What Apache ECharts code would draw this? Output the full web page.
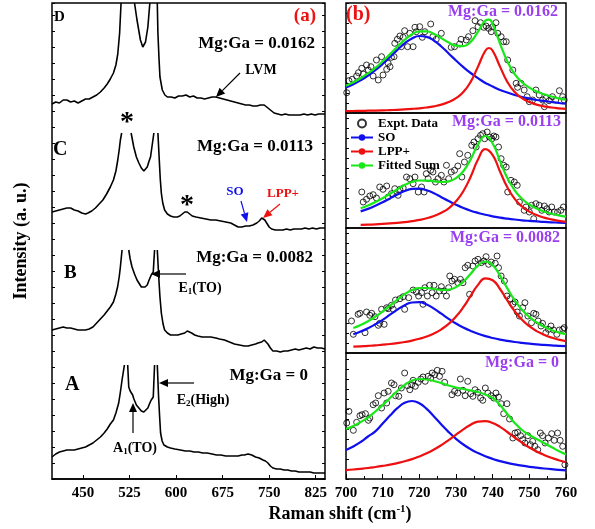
<!DOCTYPE html>
<html>
<head>
<meta charset="utf-8">
<script src="https://cdn.jsdelivr.net/npm/echarts@6/dist/echarts.min.js"></script>
<style>
  html, body { margin: 0; padding: 0; background: #fff; }
  #chart { width: 595px; height: 529px; }
</style>
</head>
<body>
<div id="chart"></div>
<script>
// ---- panel (a): Raman spectra, [shift, intensity], null = off-scale (broken peak)
var shiftTicks = [450, 525, 600, 675, 750, 825];

var traceD = [[400,375],[406,377],[412,376],[418,379],[424,379],[430,377],[436,378],[442,376],[448,378],[454,380],[460,380],[466,382],[472,384],[478,387],[484,391],[489,395],[494,400],[499,406],[503,414],[506,425],[509,446],[511.3,476],[520,null],[533,476],[537,459],[542.5,439],[546.3,432],[550.7,437],[554.5,452],[557.7,476],[563,null],[569.7,476],[570.7,446],[572.5,420],[574,402],[577.8,389],[582,384],[586,382],[592,382],[598,381],[604,383],[610,383],[616,384],[622,382],[628,383],[634,381],[640,381],[646,380],[652,381],[658,382],[664,382],[670,381],[676,380],[682,379],[688,378],[694,377],[700,376],[706,375],[712,374],[718,374],[724,373],[730,373],[736,374],[742,374],[746,372],[750,370],[754,368],[758,366],[764,365],[770,364],[776,365],[782,364],[788,364],[794,364],[800,364],[806,365],[812,364],[818,365],[824,364],[830,365],[836,365],[840,365]];

var traceC = [[400,267],[406,268],[412,269],[418,270],[424,271],[430,271],[436,269],[442,268],[448,266],[454,265],[458,266],[464,268],[470,271],[476,275],[482,279],[488,285],[494,292],[499,299],[503,308],[506,319],[508.5,330],[510.2,339],[512.3,346],[520,null],[527.5,346],[531.8,332],[536,322],[540,316],[544,311],[548,308],[551,309],[553.5,312],[556.5,318],[558.8,322],[562,324],[564.2,346],[567,null],[570.7,346],[572.9,319],[574.5,300],[576.2,286],[578.5,276],[581.5,269],[586,265],[591,263],[596,262],[602,262],[606,263],[610,265],[614,267],[618,267],[622,265],[626,263],[632,262],[640,261],[648,260],[656,259],[664,259],[672,258],[680,257],[688,256],[694,254],[700,252],[706,252],[712,253],[718,253],[724,254],[730,256],[734,258],[738,261],[740,262],[743,259],[746,256],[750,252],[754,250],[760,249],[766,249],[772,249],[778,250],[784,249],[790,250],[796,250],[802,250],[808,251],[814,250],[820,251],[826,250],[832,251],[840,251]];

var traceB = [[400,149],[406,150],[412,151],[418,152],[424,151],[430,151],[436,150],[442,149],[448,149],[454,149],[460,150],[466,152],[472,156],[478,160],[484,164],[489,168],[494,172],[499,177],[503,185],[506,193],[508.5,203],[510.2,212],[512.9,229],[518,null],[523.7,229],[526,220],[529,212],[533,205],[537,199],[541,195],[544,192],[547,191],[550,192],[553.5,194],[556.5,199],[559.9,204],[563.2,207],[565.3,229],[567,null],[569.7,229],[572.3,199],[574,182],[576.2,166],[579,155],[581.5,149],[586,146],[591,144],[597,144],[603,144],[608,145],[614,146],[618,148],[621,148],[625,146],[630,144],[635,143],[642,142],[650,142],[656,142],[664,141],[670,140],[678,139],[686,137],[694,135],[702,134],[710,133],[716,133],[722,134],[728,135],[732,136],[738,137],[742,139],[745,138],[748,135],[752,131],[756,128],[762,128],[768,127],[774,128],[780,128],[786,129],[792,130],[798,129],[804,130],[810,131],[816,130],[822,132],[828,131],[834,131],[840,130]];

var traceA = [[400,22],[406,25],[412,27],[418,28],[424,29],[430,29],[436,29],[442,30],[448,31],[454,32],[460,34],[466,36],[472,39],[478,42],[484,46],[489,50],[494,55],[499,59],[503,66],[507.5,76],[510,86],[512.9,99],[516.7,114],[519,null],[522,114],[523.7,92],[526,88],[528,87],[530,84],[532,80],[536,74],[540,71],[544,68],[548,67],[551,68],[554.5,71],[557,75],[559.9,79],[563.2,82],[565.3,114],[567,null],[569.7,114],[571.8,82],[573.5,62],[575,46],[577.5,38],[580.4,34],[586,32],[591,31],[598,30],[607,29],[615,28],[622,28],[629,27],[636,27],[643,26],[650,26],[658,25],[665,24],[672,24],[680,23],[688,23],[694,23],[700,23],[706,24],[710,24],[716,25],[722,24],[728,22],[734,21],[740,19],[744,18],[748,16],[752,13],[756,11],[762,10],[768,10],[774,9],[780,9],[786,8],[792,8],[798,7],[804,7],[810,7],[816,7],[822,6],[828,6],[834,6],[840,6]];

// ---- panel (b): experimental points and fitted components
var expt1 = [[700.2,20.3],[700.8,32.3],[701.7,33.7],[702.9,37],[703.4,40.3],[704.3,44.7],[704.7,39],[705.6,48],[706.1,43],[706.8,46.3],[707.4,37],[708.8,33],[708.3,53],[709.7,56.3],[710.1,38],[711.1,43.7],[711.5,49.7],[712,46.3],[712.4,55.7],[713.1,56.3],[713.3,69.7],[714,73.7],[714.7,77],[715.1,66.3],[715.6,75.7],[716,82.3],[716.8,66.3],[717.4,79.7],[718.3,66.3],[718.8,85.7],[719.2,81.3],[720.1,86.3],[720.8,75.7],[721.5,81.3],[723.1,89],[723.7,76.3],[724.6,73.7],[726,79.7],[728.7,65.7],[729.6,66.3],[731,69],[731.4,73.7],[732.8,73],[733.4,76.3],[734.6,82.3],[735.2,92.3],[736,86.3],[736.7,90.3],[737.6,85.7],[738.2,87],[738.9,84.7],[739.6,81.3],[740,86.3],[740.9,90.3],[741.4,79.7],[742.3,76.3],[743,71.3],[743.7,71.3],[744.1,53],[745.5,43],[746.4,29.7],[746.8,25.7],[747.7,29.7],[748.6,23],[749.4,16.3],[750,11.3],[750.9,13],[751.8,23],[752.7,18],[753.6,13],[754.1,6.3],[754.5,14.7],[755.4,12.3],[756.3,16.3],[757.2,13],[758.2,22.3],[759.1,16.3],[759.5,13]];
var expt2 = [[704.3,36],[704.7,26],[705.6,28.7],[706.5,32],[707.4,33.3],[708.3,30],[709.2,41],[710.1,38.7],[711.1,42],[711.5,31],[712.4,34.3],[713.3,39.3],[714.2,32.7],[714.7,38.7],[715.6,40],[716.5,51],[717.4,49.3],[718.3,44.3],[718.8,51],[719.7,36],[720.6,41],[721.3,36],[721.9,54.3],[722.4,49.3],[723.1,57.7],[723.7,56],[724.4,46],[725.1,49.3],[726,52.7],[726.7,46],[727.4,62.7],[728,49.3],[728.7,56],[729.6,57.7],[730.5,62],[731,74.3],[731.6,51],[732.3,66],[733.2,72.7],[734.3,82.7],[734.9,86],[735.5,81],[736,89.3],[736.7,92.7],[737.3,94.3],[737.8,89.3],[738.5,96],[739.1,91],[739.8,89.3],[740.3,92],[740.9,91],[741.6,81],[742.3,69.3],[743,62.7],[743.7,61],[744.1,36],[745,47.7],[745.9,46],[746.7,42.7],[747.3,26],[748.6,17.7],[749.1,21],[750,16],[750.6,22.7],[751.2,9.3],[751.8,24.3],[752.7,22.7],[753.4,17.7],[754.1,22],[754.8,19.3],[755.4,16],[756.1,21],[756.8,16],[757.7,16],[758.6,17.7],[759.3,21]];
var expt3 = [[701.5,32],[702,18.7],[703.3,38.7],[703.8,39.7],[705.2,20.3],[705.6,41],[706.5,37.7],[707,39.7],[707.9,36.3],[708.8,27.7],[709.2,29.7],[709.7,43.7],[710.4,28.7],[711.1,45.3],[711.5,44.3],[712.4,47.7],[712.9,43.7],[713.5,53],[714.7,54.3],[715.6,56.3],[716,43.7],[717.1,55.3],[718.3,63],[719.2,61],[719.8,57],[720.6,60.3],[721,48.7],[721.5,65.3],[722.2,57],[722.8,67.7],[723.5,60.3],[724,67.7],[724.6,57],[725.5,62],[726,66.3],[726.7,62],[727.4,57],[728,65.3],[728.3,77],[728.9,72],[729.6,73.7],[730.5,70.3],[731.2,73.7],[731.9,70.3],[732.5,85.3],[733.2,87.7],[733.7,58.7],[734.6,87],[735.2,92],[736,93.7],[736.9,90.3],[737.6,92],[738.2,96.3],[738.9,88.7],[739.6,91],[740.7,89.7],[741.2,97],[741.6,85.3],[742.3,77],[743.2,72],[743.9,57],[744.8,54.3],[745.5,48.7],[746.1,51],[746.7,41],[747.3,37],[748.2,45.3],[748.8,50.3],[749.6,37],[750.6,30.3],[751.2,39.7],[751.8,38.7],[752.4,32],[753.2,27],[753.6,29.7],[754.5,20.3],[755.2,23.7],[755.9,27],[756.6,23],[757.5,18.7],[758.2,23],[759.1,23.7],[759.5,25.3]];
var expt4 = [[700.2,56],[700.8,67.7],[702,48.7],[702.9,56.7],[703.8,63.3],[704.4,64.3],[705.3,65.3],[706.1,58.7],[706.5,61],[707.4,74.3],[708.1,76],[708.8,83.3],[709.7,71],[710.4,86],[711.1,76],[711.5,87.7],[712.4,96],[713.1,94.3],[713.5,83.3],[714.4,82.7],[715.1,91],[716,106],[716.8,93.3],[717.4,89.3],[717.9,94.3],[718.3,98.7],[718.9,92.7],[719.7,96.7],[720.4,100],[721,102],[721.6,97.7],[722.4,102.7],[723.1,101],[723.5,106],[724.2,104.3],[724.9,108.7],[725.5,102.7],[726.2,107.7],[726.9,96.7],[728.9,84.3],[729.6,87.7],[730.5,86],[731.2,100],[731.9,88.7],[732.5,83.3],[733.2,97.7],[734,85.3],[734.6,82.7],[735.2,89.3],[736,86.7],[736.7,81],[737.3,78.7],[738,91],[738.7,86],[739.6,83.3],[740.3,81],[740.9,86],[741.6,82],[742.3,75.3],[743,65.3],[743.9,75.3],[744.6,60],[745.5,41],[746.1,46],[746.8,46.7],[747.6,43.3],[748.2,39.3],[748.8,36],[749.6,43.3],[750.3,34.3],[750.9,37.7],[751.5,32.7],[752.3,29.3],[753,46],[753.6,43.3],[754.3,36],[755.2,41],[756.1,45.3],[756.8,38.7],[757.7,46],[758.4,38.7],[759.1,32.7],[759.7,14.3]];

var fitX1 = [700,702,704,706,708,710,712,714,716,718,720,722,724,726,728,730,732,734,736,738,739,740,742,744,746,748,750,752,754,756,758,760];
var so1 = [25.4,28.7,32.7,37.4,42.8,49.1,56.0,63.1,69.6,74.6,77.0,76.1,72.4,66.5,59.5,52.5,45.9,40.0,34.9,30.0,28.3,26.5,23.0,20.5,18.0,16.0,14.5,13.0,12.0,11.0,10.0,9.3];
var lpp1 = [1.9,2.0,2.1,2.3,2.4,2.6,2.9,3.2,3.6,4.1,4.7,5.5,6.7,8.4,10.9,14.8,20.9,31.1,46.4,62.3,65.0,62.3,46.4,31.1,20.9,14.8,10.9,8.4,6.7,5.5,4.7,4.1];
var sum1 = [27.3,30.7,34.8,39.7,45.2,51.7,58.9,66.3,73.2,78.7,81.7,81.6,79.1,74.9,70.4,67.3,66.8,71.1,81.3,92.3,93.3,88.8,69.4,51.6,38.9,30.8,25.4,21.4,18.7,16.5,14.7,13.4];

var fitX2 = [704,706,708,710,712,714,716,718,720,722,724,726,728,730,732,734,736,738,740,742,744,746,748,750,752,754,756,758,760];
var so2 = [16.6,19.1,22.2,25.7,29.6,33.5,37.0,39.1,39.4,37.7,34.7,30.8,26.9,23.2,20.0,17.3,15.1,13.2,11.7,10.4,9.4,8.5,7.7,7.1,6.6,6.1,5.7,5.4,5.1];
var lpp2 = [3.2,3.4,3.7,4.1,4.6,5.2,5.9,6.9,8.1,9.7,12.0,15.2,19.7,26.7,36.8,51.3,68.4,78.8,72.8,56.5,40.7,29.2,21.5,16.4,12.9,10.4,8.6,7.2,6.2];
var sum2 = [19.8,22.5,25.9,29.8,34.2,38.7,42.9,46.0,47.5,47.4,46.7,46.0,46.6,49.9,56.8,68.6,83.5,92.0,84.5,66.9,50.1,37.7,29.2,23.5,19.5,16.5,14.3,12.6,11.3];

var fitX3 = [702,704,706,708,710,712,714,716,718,720,722,724,726,728,730,732,734,736,738,740,742,744,746,748,750,752,754,756,758,760];
var so3 = [18.7,21.4,24.7,28.7,33.2,38.3,43.4,47.8,50.5,50.8,48.5,44.4,39.3,34.2,29.5,25.5,22.1,19.2,16.9,15.0,13.4,12.1,11.0,10.1,9.3,8.7,8.1,7.6,7.2,6.8];
var lpp3 = [6.3,6.7,7.1,7.6,8.3,9.0,9.9,11.0,12.4,14.2,16.5,19.6,23.7,29.1,36.4,45.8,57.1,68.1,74.6,72.8,64.0,52.5,41.8,33.2,26.8,21.9,18.3,15.5,13.4,11.9];
var sum3 = [25.0,28.1,31.8,36.3,41.5,47.3,53.3,58.8,62.9,65.0,65.0,64.0,63.0,63.3,65.9,71.3,79.2,87.3,91.5,87.8,77.4,64.6,52.8,43.3,36.1,30.6,26.4,23.1,20.6,18.7];

var fitX4 = [700,702,704,706,708,710,712,714,716,718,720,722,724,726,728,730,732,734,736,738,740,742,744,746,748,750,752,754,756,758,760];
var so4 = [29,32.5,37,42.5,47.6,55.4,63.4,70.8,76.2,78,75.8,70.1,62.6,54.5,46.9,40.2,34.5,29.8,25.9,22.7,20.1,17.9,16.1,14.6,13.3,12.2,11.3,10.5,9.8,9.2,8.6];
var lpp4 = [8.9,9.5,10.2,11.0,12.0,13.1,14.3,15.9,17.7,19.9,22.6,25.7,29.5,33.9,38.9,44.3,49.6,54.3,57.3,57.9,56.0,52.1,47.0,41.5,36.3,31.5,27.5,24.1,21.2,18.8,16.8];
var sum4 = [50,53,57,61.5,67.5,74,81,88,94,98.5,100,99.5,98,96,93.5,91.5,90,88.5,87,84.5,81,74,65,56,49,44,40,36,32,28,24.5];

var subs = [
    { expt: expt1, x: fitX1, so: so1, lpp: lpp1, sum: sum1 },
    { expt: expt2, x: fitX2, so: so2, lpp: lpp2, sum: sum2 },
    { expt: expt3, x: fitX3, so: so3, lpp: lpp3, sum: sum3 },
    { expt: expt4, x: fitX4, so: so4, lpp: lpp4, sum: sum4 }
];

var chart = echarts.init(document.getElementById('chart'));
var serif = '"Liberation Serif", "Times New Roman", serif';
var purple = '#9a3ef0';

// layout of the four stacked sub-plots in (b)
var subTop = [3, 113, 228, 353];
var subH = [110, 115, 125, 126];

function gaps(tr) {
    return tr.map(function (p) { return [p[0], p[1] === null ? '-' : p[1]]; });
}
function zip(xs, ys) {
    return xs.map(function (x, i) { return [x, ys[i]]; });
}

var grids = [{ left: 52, top: 3, width: 273, height: 476, show: true, borderColor: '#000', borderWidth: 1.5 }];
var xAxes = [{
    gridIndex: 0, type: 'value', min: 400, max: 840,
    axisLine: { show: true, lineStyle: { color: '#000', width: 1.5 } },
    axisTick: { inside: true, length: 4, customValues: shiftTicks, lineStyle: { color: '#000' } },
    axisLabel: { customValues: shiftTicks, color: '#000', fontFamily: serif, fontWeight: 'bold', fontSize: 15, margin: 7 },
    splitLine: { show: false }
}];
var yAxes = [
    { gridIndex: 0, type: 'value', min: 0, max: 476, interval: 16, position: 'left',
      name: 'Intensity (a. u.)', nameLocation: 'middle', nameGap: 22,
      nameTextStyle: { color: '#000', fontFamily: serif, fontWeight: 'bold', fontSize: 18 },
      axisLine: { show: false }, axisTick: { inside: true, length: 3, lineStyle: { color: '#000' } },
      axisLabel: { show: false }, splitLine: { show: false } },
    { gridIndex: 0, type: 'value', min: 0, max: 476, interval: 16, position: 'right',
      axisLine: { show: false }, axisTick: { inside: true, length: 3, lineStyle: { color: '#000' } },
      axisLabel: { show: false }, splitLine: { show: false } }
];

for (var k = 0; k < 4; k++) {
    var last = k === 3;
    grids.push({ left: 346, top: subTop[k], width: 220, height: subH[k], show: true, borderColor: '#000', borderWidth: 1.5 });
    xAxes.push({
        gridIndex: k + 1, type: 'value', min: 700, max: 760, interval: 10,
        axisLine: { show: false },
        axisTick: { show: last, inside: true, length: 5, lineStyle: { color: '#000' } },
        minorTick: { show: last, splitNumber: 2, length: 3, lineStyle: { color: '#000' } },
        axisLabel: { show: last, color: '#000', fontFamily: serif, fontWeight: 'bold', fontSize: 15, margin: 7 },
        splitLine: { show: false }
    });
    yAxes.push({
        gridIndex: k + 1, type: 'value', min: 0, max: subH[k], interval: 10,
        axisLine: { show: false }, axisTick: { inside: true, length: 3, lineStyle: { color: '#000' } },
        axisLabel: { show: false }, splitLine: { show: false }
    });
}

var series = [];
[traceD, traceC, traceB, traceA].forEach(function (tr) {
    series.push({
        type: 'line', xAxisIndex: 0, yAxisIndex: 0, data: gaps(tr),
        symbol: 'none', connectNulls: false, clip: true,
        lineStyle: { color: '#000', width: 1.6 }
    });
});
subs.forEach(function (s, k) {
    series.push({
        name: 'Expt. Data', type: 'scatter', xAxisIndex: k + 1, yAxisIndex: k + 2,
        data: s.expt, symbol: 'circle', symbolSize: 6, z: 1,
        itemStyle: { color: 'rgba(255,255,255,0)', borderColor: '#000', borderWidth: 1 }
    });
    [['SO', s.so, '#1010ee'], ['LPP+', s.lpp, '#ee1010'], ['Fitted Sum', s.sum, '#18e818']].forEach(function (c) {
        series.push({
            name: c[0], type: 'line', xAxisIndex: k + 1, yAxisIndex: k + 2,
            data: zip(s.x, c[1]), smooth: true, showSymbol: false, symbol: 'circle', symbolSize: 4, z: 3,
            itemStyle: { color: c[2] },
            lineStyle: { color: c[2], width: 2.2 }
        });
    });
});

function txt(x, y, s, size, color, align, extra) {
    var o = {
        type: 'text', x: x, y: y, z: 10,
        style: { text: s, fill: color || '#000', font: 'bold ' + size + 'px ' + serif,
                 align: align || 'left', verticalAlign: 'middle' }
    };
    if (extra) { o.style.rich = extra; }
    return o;
}
function arrow(x1, y1, x2, y2, color) {
    var dx = x2 - x1, dy = y2 - y1, len = Math.sqrt(dx * dx + dy * dy);
    var ux = dx / len, uy = dy / len, hl = 9, hw = 4;
    var bx = x2 - ux * hl, by = y2 - uy * hl;
    return [
        { type: 'line', z: 10, shape: { x1: x1, y1: y1, x2: bx, y2: by }, style: { stroke: color, lineWidth: 1.2 } },
        { type: 'polygon', z: 10, shape: { points: [[x2, y2], [bx - uy * hw, by + ux * hw], [bx + uy * hw, by - ux * hw]] },
          style: { fill: color } }
    ];
}
var subRich = {
    n: { font: 'bold 14px ' + serif, fill: '#000' },
    s: { font: 'bold 9px ' + serif, fill: '#000', padding: [8, 0, 0, 0] }
};
var supRich = {
    n: { font: 'bold 18px ' + serif, fill: '#000' },
    s: { font: 'bold 11px ' + serif, fill: '#000', padding: [0, 0, 9, 0] }
};

var graphics = [
    txt(54, 17, 'D', 15), txt(53, 150, 'C', 20), txt(64, 273, 'B', 19), txt(65, 385, 'A', 20),
    txt(316, 16, '(a)', 19, '#ee1111', 'right'),
    txt(315, 44, 'Mg:Ga = 0.0162', 17, '#000', 'right'),
    txt(313, 147, 'Mg:Ga = 0.0113', 17, '#000', 'right'),
    txt(313, 258, 'Mg:Ga = 0.0082', 17, '#000', 'right'),
    txt(308, 376, 'Mg:Ga = 0', 17, '#000', 'right'),
    txt(261, 70, 'LVM', 14, '#000', 'center'),
    txt(127, 123, '*', 28, '#000', 'center'),
    txt(187, 206, '*', 28, '#000', 'center'),
    txt(235, 192, 'SO', 13, '#1010ee', 'center'),
    txt(283, 194, 'LPP+', 13, '#ee1010', 'center'),
    txt(200, 288, '{n|E}{s|1}{n|(TO)}', 14, '#000', 'center', subRich),
    txt(203, 400, '{n|E}{s|2}{n|(High)}', 14, '#000', 'center', subRich),
    txt(135, 448, '{n|A}{s|1}{n|(TO)}', 14, '#000', 'center', subRich),
    txt(346, 15, '(b)', 20, '#ee1111', 'left'),
    txt(558, 12, 'Mg:Ga = 0.0162', 16, purple, 'right'),
    txt(561, 122, 'Mg:Ga = 0.0113', 16, purple, 'right'),
    txt(560, 238, 'Mg:Ga = 0.0082', 16, purple, 'right'),
    txt(559, 363, 'Mg:Ga = 0', 16, purple, 'right'),
    txt(340, 514, '{n|Raman shift (cm}{s|-1}{n|)}', 18, '#000', 'center', supRich)
];
graphics = graphics
    .concat(arrow(240, 73, 216, 97, '#000'))
    .concat(arrow(241, 201, 247, 222, '#1010ee'))
    .concat(arrow(280, 204, 263, 218, '#ee1010'))
    .concat(arrow(186, 274, 151, 274, '#000'))
    .concat(arrow(194, 383, 159, 383, '#000'))
    .concat(arrow(133, 433, 133, 403, '#000'));

var option = {
    animation: false,
    backgroundColor: '#fff',
    grid: grids,
    xAxis: xAxes,
    yAxis: yAxes,
    legend: {
        data: ['Expt. Data', 'SO', 'LPP+', 'Fitted Sum'],
        orient: 'vertical', left: 350, top: 117,
        itemWidth: 22, itemHeight: 8, itemGap: 1, padding: 0,
        textStyle: { color: '#000', fontFamily: serif, fontWeight: 'bold', fontSize: 13 }
    },
    series: series,
    graphic: graphics
};
chart.setOption(option);
</script>
</body>
</html>
